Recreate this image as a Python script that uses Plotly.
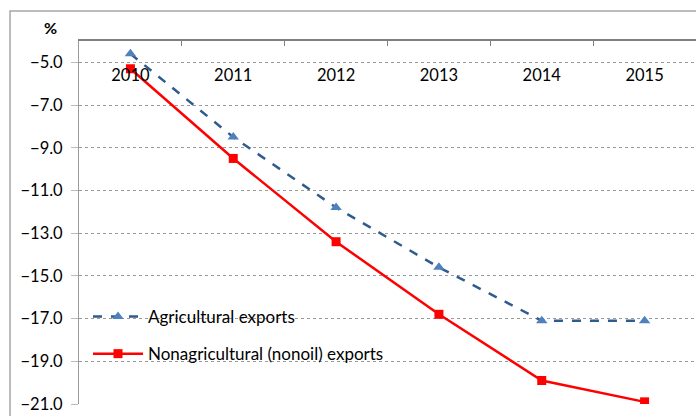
import plotly.graph_objects as go

years = ["2010", "2011", "2012", "2013", "2014", "2015"]
agricultural = [-4.6, -8.5, -11.8, -14.6, -17.1, -17.1]
nonagricultural = [-5.3, -9.5, -13.4, -16.8, -19.9, -20.9]
y_ticks = [-5, -7, -9, -11, -13, -15, -17, -19, -21]

W, H = 696, 416
L, T, R, B = 79, 41, 0, 12

fig = go.Figure()
fig.add_trace(go.Scatter(
    x=years, y=agricultural, mode="lines+markers", name="Agricultural exports",
    legendgroup="a",
    line=dict(color="#2F5B8F", width=2.5, dash="dash"),
    marker=dict(symbol="triangle-up", size=10, color="#4F81BD"),
))
fig.add_trace(go.Scatter(
    x=years, y=nonagricultural, mode="lines+markers", name="Nonagricultural (nonoil) exports",
    legendgroup="b",
    line=dict(color="#FF0000", width=2.5),
    marker=dict(symbol="square", size=9, color="#FF0000"),
))
# invisible trace so the year-label axis (x2) is drawn
fig.add_trace(go.Scatter(
    x=list(range(len(years))), y=agricultural, xaxis="x2", mode="markers",
    marker=dict(opacity=0), showlegend=False, hoverinfo="skip",
))

pw = W - L - R
ph = H - T - B
def px_x(x):
    return (x - L) / pw
def px_y(y):
    return 1 - (y - T) / ph

fig.add_shape(type="rect", xref="paper", yref="paper",
              x0=px_x(10), x1=px_x(720), y0=px_y(440), y1=px_y(11),
              line=dict(color="#A6A6A6", width=1.5), layer="below")

fig.add_annotation(text="<b>%</b>", xref="paper", yref="paper",
                   x=px_x(50), y=px_y(27), xanchor="center", yanchor="middle",
                   showarrow=False, font=dict(size=16, color="#000000"))

fig.update_layout(
    width=W, height=H,
    margin=dict(l=L, r=R, t=T, b=B),
    paper_bgcolor="white", plot_bgcolor="white",
    font=dict(family="Lato, Open Sans, sans-serif", size=16, color="#000000"),
    showlegend=True,
    legend=dict(x=px_x(88), y=px_y(299), xanchor="left", yanchor="top",
                bgcolor="rgba(0,0,0,0)", font=dict(size=17, color="#000000"),
                tracegroupgap=12, itemwidth=50),
    xaxis=dict(
        type="category", side="top", range=[-0.5, 5.5],
        showline=True, linecolor="#808080", linewidth=2,
        ticks="inside", ticklen=5, tickcolor="#808080", tickson="boundaries",
        showticklabels=False,
        showgrid=False, zeroline=False,
    ),
    xaxis2=dict(
        overlaying="x", anchor="free", position=px_y(84), side="top",
        range=[-0.5, 5.5], tickvals=list(range(len(years))), ticktext=years,
        showline=False, ticks="", showgrid=False, zeroline=False,
        tickfont=dict(size=16.5, color="#000000"),
    ),
    yaxis=dict(
        range=[-21, -4], tickvals=y_ticks, tickformat=".1f",
        showgrid=True, gridcolor="#9A9A9A", griddash="dot", gridwidth=1,
        showline=True, linecolor="#9A9A9A", linewidth=1,
        ticks="outside", ticklen=7, tickcolor="#BBBBBB",
        ticklabelstandoff=5,
        zeroline=False, tickfont=dict(size=16.5, color="#000000"),
    ),
)

fig.write_html("out.html")
